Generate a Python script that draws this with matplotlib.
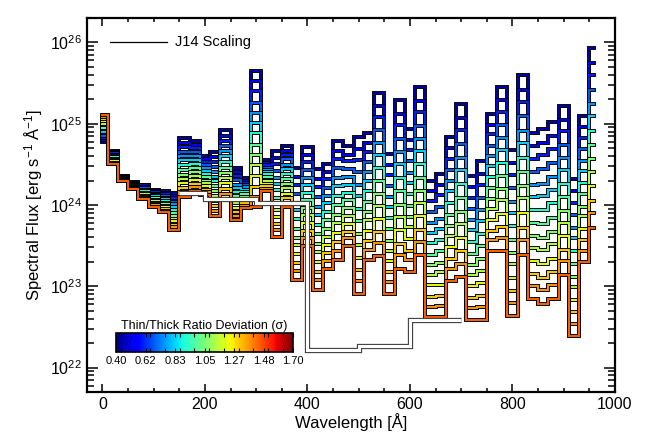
import matplotlib
matplotlib.use('Agg')
import numpy as np
import matplotlib.pyplot as plt
from matplotlib.cm import ScalarMappable
from matplotlib.colors import Normalize
from matplotlib.ticker import MultipleLocator

# fonts (Helvetica-like, with fallback for any missing glyph)
plt.rcParams['font.family'] = ['Liberation Sans', 'DejaVu Sans']
plt.rcParams['mathtext.fontset'] = 'custom'
plt.rcParams['mathtext.rm'] = 'Liberation Sans'
plt.rcParams['mathtext.it'] = 'Liberation Sans:italic'
plt.rcParams['mathtext.bf'] = 'Liberation Sans:bold'

# ---------- data ----------
# bin centres [A], 20 A bins
wave = [0, 20, 40, 60, 80, 100, 120, 140, 160, 180, 200, 220, 240, 260, 280,
        300, 320, 340, 360, 380, 400, 420, 440, 460, 480, 500, 520, 540, 560,
        580, 600, 620, 640, 660, 680, 700, 720, 740, 760, 780, 800, 820, 840,
        860, 880, 900, 920, 940, 960]

# thin/thick ratio deviation of each model
sigma = [0.45, 0.53, 0.60, 0.68, 0.76, 0.83, 0.91, 0.99, 1.07, 1.14, 1.22,
         1.30, 1.37, 1.45]

# spectral flux per bin, as log10(F / 1e22 erg/s/A) in units of 0.01 dex
flux_s045 = [277, 266, 236, 228, 225, 219, 217, 215, 282, 279, 260, 265, 292, 245, 233, 365, 255,
             266, 273, 246, 271, 244, 251, 279, 272, 284, 289, 338, 263, 329, 294, 345, 230, 238,
             284, 324, 236, 254, 312, 345, 268, 360, 288, 293, 302, 322, 232, 310, 393]
flux_s053 = [280, 265, 236, 227, 224, 217, 215, 211, 276, 274, 256, 259, 285, 240, 230, 352, 252,
             258, 267, 235, 261, 232, 241, 267, 262, 269, 276, 322, 249, 312, 280, 328, 217, 224,
             270, 307, 222, 238, 298, 329, 252, 342, 272, 276, 285, 305, 217, 296, 375]
flux_s060 = [282, 264, 235, 227, 222, 216, 213, 208, 271, 270, 253, 253, 279, 236, 227, 340, 249,
             250, 262, 225, 253, 222, 232, 257, 254, 255, 265, 308, 237, 298, 268, 314, 205, 212,
             257, 292, 209, 225, 287, 315, 237, 327, 257, 261, 269, 291, 203, 283, 360]
flux_s068 = [285, 262, 235, 226, 221, 214, 211, 204, 265, 265, 249, 247, 272, 231, 224, 326, 246,
             242, 256, 214, 243, 210, 221, 245, 244, 240, 253, 292, 223, 281, 254, 297, 191, 198,
             243, 275, 195, 209, 273, 299, 221, 309, 241, 244, 252, 274, 188, 269, 342]
flux_s076 = [288, 261, 234, 226, 219, 212, 209, 201, 260, 260, 245, 241, 266, 225, 222, 313, 243,
             233, 249, 203, 233, 198, 211, 233, 234, 224, 240, 276, 210, 265, 239, 281, 178, 183,
             229, 258, 181, 194, 260, 282, 204, 291, 225, 226, 234, 258, 172, 254, 324]
flux_s083 = [290, 260, 234, 225, 218, 211, 207, 198, 255, 255, 242, 235, 260, 221, 219, 301, 241,
             226, 244, 194, 225, 188, 202, 223, 225, 211, 229, 262, 198, 250, 227, 266, 166, 171,
             217, 243, 169, 180, 248, 268, 190, 276, 210, 211, 219, 243, 159, 242, 309]
flux_s091 = [293, 259, 233, 224, 217, 209, 205, 194, 249, 250, 238, 229, 253, 216, 216, 288, 238,
             218, 238, 183, 215, 176, 191, 211, 215, 195, 217, 246, 184, 233, 213, 250, 153, 157,
             203, 226, 155, 164, 234, 252, 174, 258, 194, 194, 202, 226, 143, 227, 291]
flux_s099 = [295, 257, 233, 224, 215, 208, 203, 190, 243, 246, 234, 223, 246, 211, 213, 274, 234,
             209, 232, 171, 206, 164, 181, 200, 206, 180, 204, 229, 170, 217, 199, 233, 139, 143,
             188, 209, 140, 149, 221, 236, 157, 241, 178, 177, 184, 210, 128, 213, 274]
flux_s107 = [298, 256, 232, 223, 214, 206, 201, 186, 237, 241, 230, 217, 239, 206, 210, 261, 231,
             201, 226, 160, 196, 152, 170, 188, 196, 164, 192, 213, 156, 200, 185, 217, 126, 129,
             174, 192, 126, 133, 207, 220, 141, 223, 162, 160, 167, 193, 112, 198, 256]
flux_s114 = [300, 255, 232, 222, 213, 205, 199, 183, 232, 236, 227, 211, 233, 202, 207, 249, 229,
             194, 221, 151, 188, 142, 161, 178, 187, 151, 181, 199, 144, 185, 173, 202, 114, 117,
             162, 177, 114, 119, 195, 206, 127, 208, 147, 145, 152, 178, 99, 186, 241]
flux_s122 = [303, 254, 231, 222, 211, 203, 197, 180, 227, 231, 223, 205, 227, 196, 205, 236, 226,
             185, 214, 140, 178, 130, 151, 166, 177, 135, 168, 183, 131, 169, 158, 186, 101, 102,
             148, 160, 100, 104, 182, 189, 110, 190, 131, 127, 134, 162, 83, 171, 223]
flux_s130 = [306, 252, 231, 221, 210, 201, 195, 176, 221, 226, 219, 199, 220, 191, 202, 222, 223,
             177, 208, 129, 168, 118, 141, 154, 167, 120, 156, 167, 117, 152, 144, 169, 87, 88,
             134, 143, 86, 88, 168, 173, 94, 172, 115, 110, 117, 145, 68, 157, 205]
flux_s137 = [308, 251, 230, 221, 208, 200, 193, 173, 216, 222, 216, 193, 214, 187, 199, 210, 220,
             169, 203, 119, 160, 108, 131, 144, 159, 106, 145, 153, 105, 138, 132, 155, 75, 76,
             121, 128, 73, 75, 157, 159, 79, 157, 100, 95, 101, 131, 54, 144, 190]
flux_s145 = [311, 250, 230, 220, 207, 198, 191, 169, 210, 217, 212, 187, 207, 182, 196, 197, 217,
             161, 197, 108, 150, 96, 121, 132, 149, 91, 132, 137, 91, 121, 118, 138, 62, 62,
             107, 111, 59, 59, 143, 143, 63, 139, 84, 78, 84, 114, 39, 130, 172]

# J14 scaling (bin edges [A] and flux)
j14_edges = [150, 200, 300, 400, 500, 600, 700]
j14_flux = [1.40e24, 1.17e24, 1.05e24, 1.66e22, 1.82e22, 3.9e22]

cb_ticks = [0.40, 0.6167, 0.8333, 1.05, 1.2667, 1.4833, 1.70]
cb_labels = ['0.40', '0.62', '0.83', '1.05', '1.27', '1.48', '1.70']
# ---------------------------

curves = [flux_s045, flux_s053, flux_s060, flux_s068, flux_s076, flux_s083,
          flux_s091, flux_s099, flux_s107, flux_s114, flux_s122, flux_s130,
          flux_s137, flux_s145]

fig = plt.figure(figsize=(6.47, 4.43), dpi=100)
ax = fig.add_axes([0.1345, 0.1151, 0.816, 0.8443])

cmap = plt.get_cmap('jet')
norm = Normalize(0.40, 1.70)
for s, c in zip(sigma, curves):
    flux = 1e22 * 10 ** (np.array(c) / 100.0)
    ax.plot(wave, flux, drawstyle='steps-mid', color='k', lw=2.8,
            solid_joinstyle='miter')
    ax.plot(wave, flux, drawstyle='steps-mid', color=cmap(norm(s)), lw=1.4,
            solid_joinstyle='miter')

# J14 as a hollow double line
ax.stairs(j14_flux, j14_edges, baseline=None, color='0.25', lw=3.8, zorder=5)
ax.stairs(j14_flux, j14_edges, baseline=None, color='white', lw=2.2, zorder=6)

ax.set_yscale('log')
ax.set_xlim(-30, 1000)
ax.set_ylim(5e21, 2e26)
ax.xaxis.set_major_locator(MultipleLocator(200))
ax.xaxis.set_minor_locator(MultipleLocator(50))
ax.tick_params(which='both', direction='in', top=True, right=True, width=1.1,
               labelsize=11.5)
ax.tick_params(axis='x', which='major', length=6)
ax.tick_params(axis='x', which='minor', length=3)
ax.tick_params(axis='y', which='major', length=8)
ax.tick_params(axis='y', which='minor', length=5)
for sp in ax.spines.values():
    sp.set_linewidth(1.6)

ax.set_xlabel('Wavelength [Å]', fontsize=12, labelpad=1)
ax.set_ylabel(r'Spectral Flux [erg s$^{-1}$ Å$^{-1}$]', fontsize=12)

# legend entry
ax.plot([0.044, 0.151], [0.937, 0.937], transform=ax.transAxes, color='k', lw=0.9)
ax.text(0.167, 0.937, 'J14 Scaling', transform=ax.transAxes, va='center',
        ha='left', fontsize=10.5)

# colour bar inset
cax = fig.add_axes([0.1793, 0.2054, 0.2736, 0.0429])
cb = fig.colorbar(ScalarMappable(norm=norm, cmap=cmap), cax=cax,
                  orientation='horizontal')
cb.set_ticks(cb_ticks)
cb.set_ticklabels(cb_labels)
cax.xaxis.set_minor_locator(MultipleLocator(0.10833))
cax.tick_params(which='both', direction='in', top=True, bottom=True,
                length=3, width=0.8, labelsize=8, pad=3)
cb.outline.set_linewidth(1.2)
cax.set_title('Thin/Thick Ratio Deviation (σ)', fontsize=9, pad=3)

fig.savefig('out.png', dpi=100)
